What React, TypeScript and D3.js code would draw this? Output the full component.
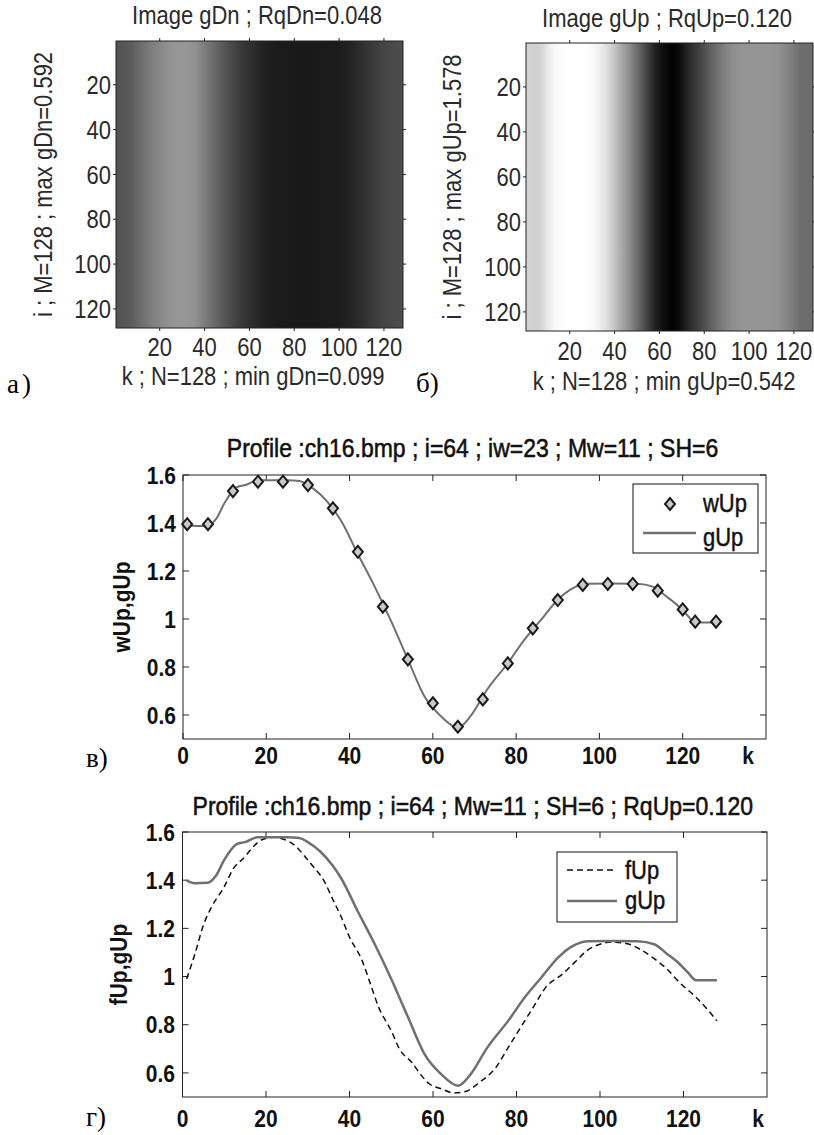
import { useRef, useEffect } from 'react'
import * as d3 from 'd3'

const W = 814
const H = 1135

// gDn image: grey level along k (shown on a 0..1 grey scale, rows are alike)
const gDnK = [1, 5, 8, 12, 16, 20, 24, 28, 32, 36, 40, 44, 48, 52, 56, 60, 64, 68, 72, 76, 80, 84, 88, 92, 96, 100, 104, 108, 112, 116, 120, 124, 128]
const gDnV = [0.32, 0.34, 0.37, 0.43, 0.49, 0.53, 0.57, 0.59, 0.59, 0.56, 0.49, 0.42, 0.35, 0.29, 0.23, 0.19, 0.15, 0.12, 0.105, 0.10, 0.099, 0.099, 0.099, 0.10, 0.105, 0.11, 0.13, 0.16, 0.20, 0.24, 0.27, 0.29, 0.30]

// gUp profile (row i=64), also used for the gUp image
const gUpK = [1, 3, 6, 8, 10, 13, 15, 18, 25, 28, 30, 33, 36, 38, 42, 46, 50, 54, 58, 62, 66, 69, 73, 78, 82, 86, 90, 93, 97, 103, 109, 113, 116, 119, 121, 123, 128]
const gUpV = [1.398, 1.387, 1.389, 1.418, 1.484, 1.55, 1.558, 1.578, 1.578, 1.575, 1.558, 1.519, 1.46, 1.408, 1.27, 1.136, 0.99, 0.832, 0.677, 0.594, 0.547, 0.594, 0.705, 0.816, 0.914, 0.997, 1.08, 1.122, 1.147, 1.148, 1.147, 1.134, 1.095, 1.053, 1.018, 0.985, 0.985]

// wUp markers
const wUpK = [1, 6, 12, 18, 24, 30, 36, 42, 48, 54, 60, 66, 72, 78, 84, 90, 96, 102, 108, 114, 120, 123, 128]
const wUpV = [1.395, 1.395, 1.533, 1.572, 1.572, 1.558, 1.461, 1.28, 1.051, 0.832, 0.649, 0.551, 0.665, 0.815, 0.961, 1.079, 1.142, 1.146, 1.146, 1.118, 1.04, 0.989, 0.989]

// fUp profile
const fUpK = [1, 3, 5, 7, 10, 12, 15, 17, 19, 22, 24, 27, 29, 31, 34, 36, 38, 40, 43, 45, 47, 50, 52, 55, 57, 59, 62, 65, 68, 71, 75, 78, 81, 84, 87, 91, 94, 97, 100, 103, 107, 110, 113, 116, 119, 123, 126, 128]
const fUpV = [0.99, 1.095, 1.213, 1.29, 1.373, 1.443, 1.498, 1.54, 1.568, 1.578, 1.571, 1.543, 1.505, 1.463, 1.394, 1.32, 1.248, 1.164, 1.067, 0.97, 0.872, 0.775, 0.698, 0.642, 0.594, 0.556, 0.534, 0.517, 0.524, 0.559, 0.621, 0.705, 0.789, 0.872, 0.955, 1.01, 1.06, 1.109, 1.134, 1.143, 1.134, 1.109, 1.074, 1.032, 0.976, 0.914, 0.858, 0.816]

const heatTicks = [20, 40, 60, 80, 100, 120]
const profXTicks = [0, 20, 40, 60, 80, 100, 120]
const profYTicks = [0.6, 0.8, 1, 1.2, 1.4, 1.6]

const SANS = "'Liberation Sans', Arial, sans-serif"
const SERIF = "'Liberation Serif', 'Times New Roman', serif"
const STRETCH = 1.15 // the scanned text is taller than it is wide

// text with a vertical stretch, placed by transform
function txt(g: any, x: number, y: number, s: string | number, o: any = {}) {
  const fill = o.fill || '#111'
  const t = g.append('text')
    .attr('transform', `translate(${x},${y})${o.rot ? ' rotate(-90)' : ''} scale(1,${STRETCH})`)
    .attr('text-anchor', o.anchor || 'start')
    .attr('font-family', SANS)
    .attr('font-size', o.size || 22)
    .attr('font-weight', o.bold ? 'bold' : 'normal')
    .attr('fill', fill)
    .text(s)
  if (o.mid) t.attr('dy', '0.36em')
  if (o.heavy) t.attr('stroke', fill).attr('stroke-width', o.heavy)
  return t
}

type Heat = {
  id: string
  x0: number; x1: number; y0: number; y1: number
  ks: number[]; vs: number[]; vmin: number; vmax: number
  title: string; titleX: number; titleY: number
  ylabel: string; ylabelX: number
  xlabel: string; xlabelX: number; xlabelY: number
  yTickEnd: number; xTickBase: number
}

function drawHeat(svg: any, defs: any, p: Heat) {
  const g = svg.append('g')
  const x = d3.scaleLinear().domain([0.5, 128.5]).range([p.x0, p.x1])
  const y = d3.scaleLinear().domain([0.5, 128.5]).range([p.y0, p.y1])
  const grey = d3.scaleLinear<string>().domain([p.vmin, p.vmax]).range(['#000', '#fff']).clamp(true)

  const grad = defs.append('linearGradient').attr('id', p.id)
    .attr('x1', 0).attr('x2', 1).attr('y1', 0).attr('y2', 0)
  grad.selectAll('stop').data(p.ks).enter().append('stop')
    .attr('offset', (k: number) => (k - 0.5) / 128)
    .attr('stop-color', (_: number, i: number) => grey(p.vs[i]))

  g.append('rect').attr('x', x(0.5)).attr('y', y(0.5))
    .attr('width', x(128.5) - x(0.5)).attr('height', y(128.5) - y(0.5))
    .attr('fill', `url(#${p.id})`)
    .attr('stroke', '#222').attr('stroke-width', 1)

  const tl = 3
  const f = { fill: '#2a2a2a' }
  heatTicks.forEach(t => {
    g.append('line').attr('x1', x(t)).attr('x2', x(t)).attr('y1', p.y0).attr('y2', p.y0 - tl).attr('stroke', '#222')
    g.append('line').attr('x1', x(t)).attr('x2', x(t)).attr('y1', p.y1).attr('y2', p.y1 + tl).attr('stroke', '#222')
    g.append('line').attr('y1', y(t)).attr('y2', y(t)).attr('x1', p.x0).attr('x2', p.x0 - tl).attr('stroke', '#222')
    g.append('line').attr('y1', y(t)).attr('y2', y(t)).attr('x1', p.x1).attr('x2', p.x1 + tl).attr('stroke', '#222')
    txt(g, x(t), p.xTickBase, t, { ...f, anchor: 'middle' })
    txt(g, p.yTickEnd, y(t), t, { ...f, anchor: 'end', mid: true })
  })

  txt(g, p.titleX, p.titleY, p.title, { ...f, anchor: 'middle' })
  txt(g, p.xlabelX, p.xlabelY, p.xlabel, { ...f, anchor: 'middle' })
  txt(g, p.ylabelX, (p.y0 + p.y1) / 2, p.ylabel, { ...f, anchor: 'middle', rot: true, mid: true })
}

type Prof = {
  x0: number; x1: number; y0: number; y1: number
  title: string; titleBase: number
  ylabel: string; ylabelX: number
  kX: number; xTickBase: number; yTickEnd: number
}

function drawProfileFrame(svg: any, p: Prof) {
  const x = d3.scaleLinear().domain([0, 140]).range([p.x0, p.x1])
  const y = d3.scaleLinear().domain([0.5, 1.6]).range([p.y1, p.y0])
  const g = svg.append('g')
  g.append('rect').attr('x', p.x0).attr('y', p.y0).attr('width', p.x1 - p.x0).attr('height', p.y1 - p.y0)
    .attr('fill', '#fff').attr('stroke', '#222')
  const tl = 6
  const tk = { bold: true, size: 21 }
  profXTicks.forEach(t => {
    g.append('line').attr('x1', x(t)).attr('x2', x(t)).attr('y1', p.y1).attr('y2', p.y1 - tl).attr('stroke', '#222')
    g.append('line').attr('x1', x(t)).attr('x2', x(t)).attr('y1', p.y0).attr('y2', p.y0 + tl).attr('stroke', '#222')
    txt(g, x(t), p.xTickBase, t, { ...tk, anchor: 'middle' })
  })
  profYTicks.forEach(t => {
    g.append('line').attr('y1', y(t)).attr('y2', y(t)).attr('x1', p.x0).attr('x2', p.x0 + tl).attr('stroke', '#222')
    g.append('line').attr('y1', y(t)).attr('y2', y(t)).attr('x1', p.x1).attr('x2', p.x1 - tl).attr('stroke', '#222')
    txt(g, p.yTickEnd, y(t), d3.format('~g')(t), { ...tk, anchor: 'end', mid: true })
  })
  txt(g, p.kX, p.xTickBase, 'k', { ...tk, anchor: 'middle' })
  txt(g, p.ylabelX, (p.y0 + p.y1) / 2, p.ylabel, { ...tk, anchor: 'middle', rot: true, mid: true })
  txt(g, (p.x0 + p.x1) / 2 - 2, p.titleBase, p.title, { anchor: 'middle', size: 23, heavy: 0.5 })
  return { g, x, y }
}

function diamond(g: any, cx: number, cy: number) {
  g.append('path')
    .attr('d', `M${cx},${cy - 6}L${cx + 5},${cy}L${cx},${cy + 6}L${cx - 5},${cy}Z`)
    .attr('fill', '#c9c9c9').attr('stroke', '#1a1a1a').attr('stroke-width', 2)
}

export default function App() {
  const ref = useRef<HTMLDivElement>(null)

  useEffect(() => {
    document.body.style.margin = '0'
    document.body.style.overflow = 'hidden'

    const svg = d3.create('svg').attr('width', W).attr('height', H)
      .style('display', 'block').style('background', '#fff')
    const defs = svg.append('defs')

    // а) gDn image
    drawHeat(svg, defs, {
      id: 'gDnGrad', x0: 116, x1: 403, y0: 41, y1: 328,
      ks: gDnK, vs: gDnV, vmin: 0, vmax: 1,
      title: 'Image gDn ; RqDn=0.048', titleX: 257, titleY: 24,
      ylabel: 'i ; M=128 ; max gDn=0.592', ylabelX: 43,
      xlabel: 'k ; N=128 ; min gDn=0.099', xlabelX: 253, xlabelY: 385,
      yTickEnd: 111, xTickBase: 356,
    })
    // б) gUp image
    drawHeat(svg, defs, {
      id: 'gUpGrad', x0: 526, x1: 813, y0: 43, y1: 331,
      ks: gUpK, vs: gUpV, vmin: 0.542, vmax: 1.578,
      title: 'Image gUp ; RqUp=0.120', titleX: 667, titleY: 27,
      ylabel: 'i ; M=128 ; max gUp=1.578', ylabelX: 452,
      xlabel: 'k ; N=128 ; min gUp=0.542', xlabelX: 664, xlabelY: 390,
      yTickEnd: 521, xTickBase: 360,
    })

    const curve = d3.curveMonotoneX

    // в) wUp / gUp profile
    const m = drawProfileFrame(svg, {
      x0: 183, x1: 766, y0: 475, y1: 739,
      title: 'Profile :ch16.bmp ; i=64 ; iw=23 ; Mw=11 ; SH=6', titleBase: 457,
      ylabel: 'wUp,gUp', ylabelX: 121, kX: 748, xTickBase: 764, yTickEnd: 176,
    })
    const mLine = d3.line<number>().x((_, i) => m.x(gUpK[i])).y(v => m.y(v)).curve(curve)
    m.g.append('path').attr('d', mLine(gUpV)).attr('fill', 'none').attr('stroke', '#707070').attr('stroke-width', 2)
    wUpK.forEach((k, i) => diamond(m.g, m.x(k), m.y(wUpV[i])))
    m.g.append('rect').attr('x', 633).attr('y', 484).attr('width', 125).attr('height', 69)
      .attr('fill', '#fff').attr('stroke', '#111')
    diamond(m.g, 670, 504)
    m.g.append('line').attr('x1', 643).attr('x2', 696).attr('y1', 533).attr('y2', 533).attr('stroke', '#707070').attr('stroke-width', 2.5)
    txt(m.g, 703, 512, 'wUp', { heavy: 0.4 })
    txt(m.g, 703, 546, 'gUp', { heavy: 0.4 })

    // г) fUp / gUp profile
    const b = drawProfileFrame(svg, {
      x0: 182.5, x1: 767, y0: 832, y1: 1097,
      title: 'Profile :ch16.bmp ; i=64 ; Mw=11 ; SH=6 ; RqUp=0.120', titleBase: 815,
      ylabel: 'fUp,gUp', ylabelX: 118, kX: 758, xTickBase: 1127, yTickEnd: 175,
    })
    const bg = d3.line<number>().x((_, i) => b.x(gUpK[i])).y(v => b.y(v)).curve(curve)
    const bf = d3.line<number>().x((_, i) => b.x(fUpK[i])).y(v => b.y(v)).curve(curve)
    b.g.append('path').attr('d', bf(fUpV)).attr('fill', 'none').attr('stroke', '#111')
      .attr('stroke-width', 1.5).attr('stroke-dasharray', '6,4')
    b.g.append('path').attr('d', bg(gUpV)).attr('fill', 'none').attr('stroke', '#707070').attr('stroke-width', 2.5)
    b.g.append('rect').attr('x', 557).attr('y', 852).attr('width', 120).attr('height', 70)
      .attr('fill', '#fff').attr('stroke', '#111')
    b.g.append('line').attr('x1', 567).attr('x2', 617).attr('y1', 870).attr('y2', 870).attr('stroke', '#111')
      .attr('stroke-width', 1.5).attr('stroke-dasharray', '6,4')
    b.g.append('line').attr('x1', 567).attr('x2', 617).attr('y1', 901).attr('y2', 901).attr('stroke', '#707070').attr('stroke-width', 2.5)
    txt(b.g, 625, 879, 'fUp', { heavy: 0.4 })
    txt(b.g, 625, 909, 'gUp', { heavy: 0.4 })

    // panel letters
    const letters = [
      { t: 'a)', x: 7, y: 393, ls: 3 },
      { t: 'б)', x: 416, y: 392, ls: 0 },
      { t: 'в)', x: 86, y: 767, ls: 0 },
      { t: 'г)', x: 86, y: 1126, ls: 0 },
    ]
    svg.selectAll('text.lbl').data(letters).enter().append('text').attr('class', 'lbl')
      .attr('x', d => d.x).attr('y', d => d.y).attr('font-family', SERIF).attr('font-size', 27)
      .attr('letter-spacing', d => d.ls).attr('fill', '#000').text(d => d.t)

    ref.current?.append(svg.node() as SVGSVGElement)
    return () => { svg.node()?.remove() }
  }, [])

  return <div ref={ref} style={{ width: W, height: H }} />
}
